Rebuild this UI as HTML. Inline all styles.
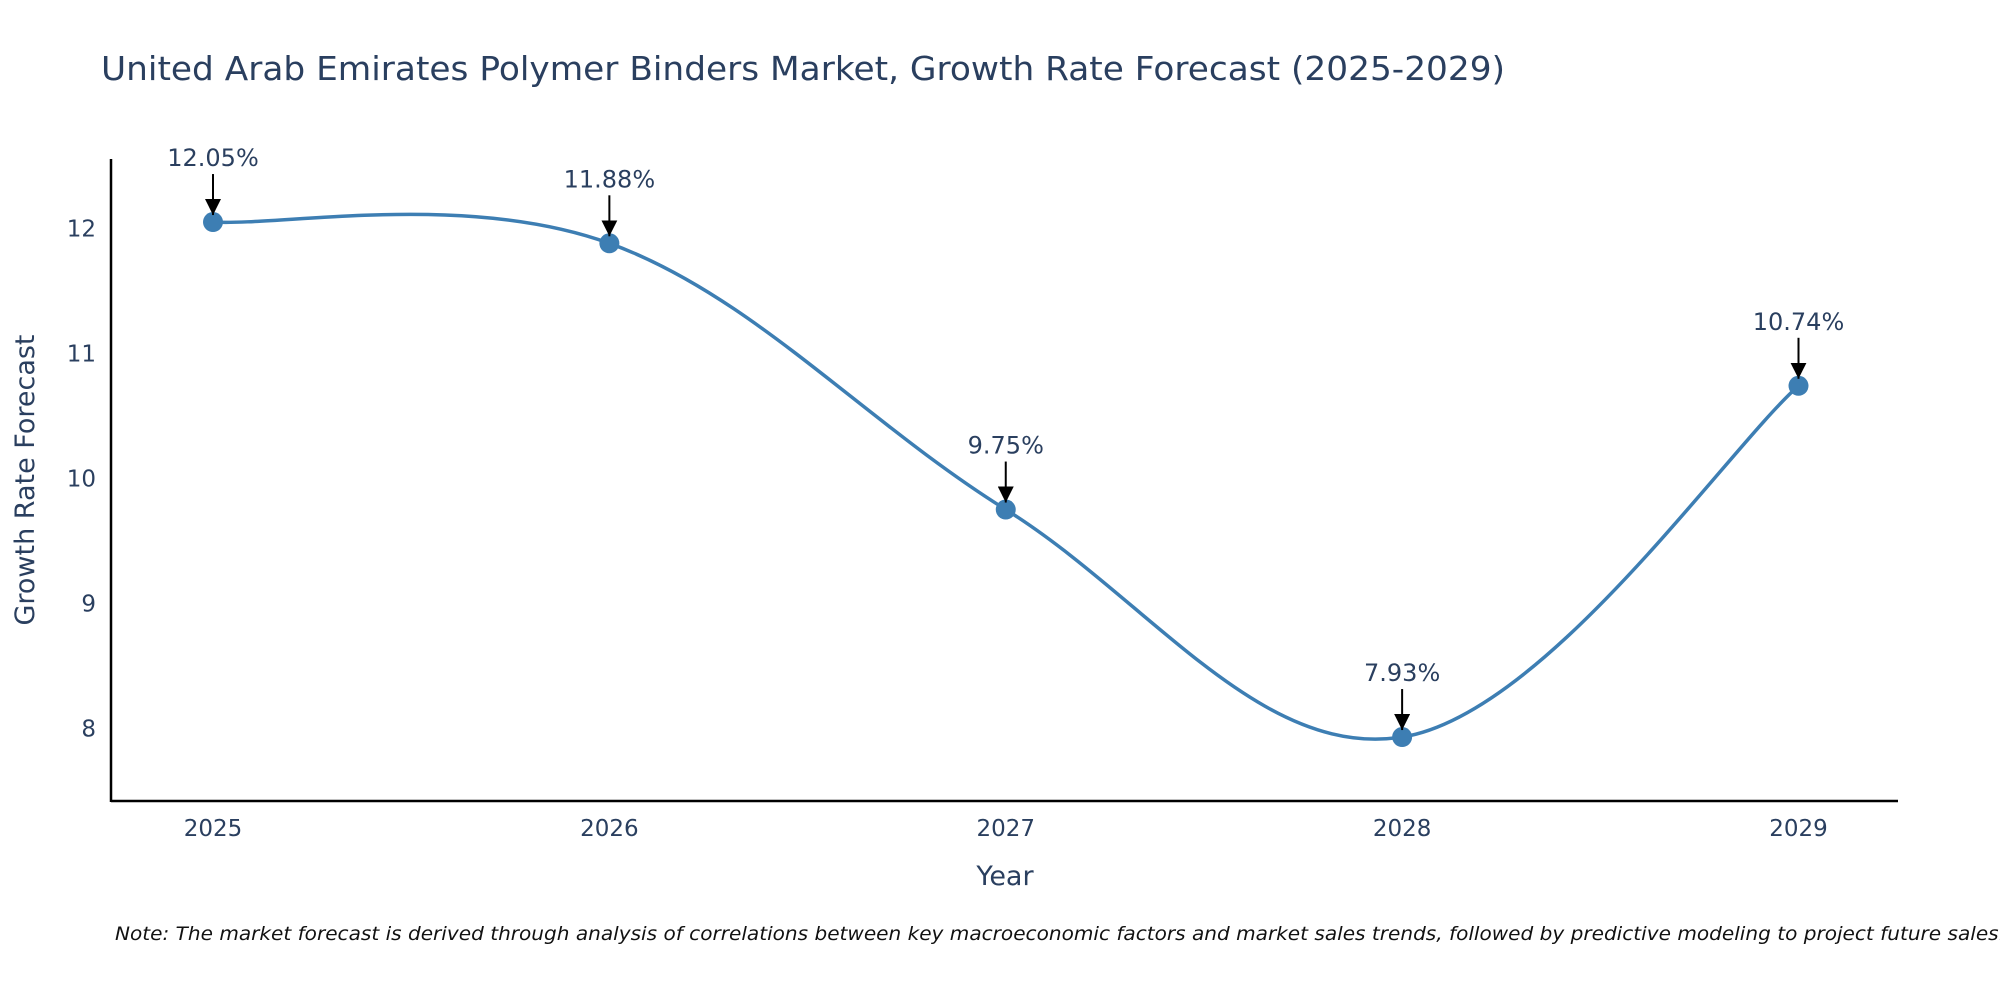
<!DOCTYPE html>
<html><head><meta charset="utf-8"><style>
html,body{margin:0;padding:0;background:#fff;}
svg{display:block;font-family:"DejaVu Sans","Liberation Sans",sans-serif;}
</style></head><body>
<svg id="chart" width="2000" height="1000" viewBox="0 0 2000 1000">
<text x="101" y="80" font-size="33" fill="#2a3f5f" textLength="1404" lengthAdjust="spacingAndGlyphs">United Arab Emirates Polymer Binders Market, Growth Rate Forecast (2025-2029)</text>
<g id="axes"></g>
<g id="series"></g>
<g id="annos"></g>
<text x="1005" y="885" font-size="27" fill="#2a3f5f" text-anchor="middle">Year</text>
<text transform="translate(34,480) rotate(-90)" font-size="27" fill="#2a3f5f" text-anchor="middle">Growth Rate Forecast</text>
<text x="115" y="940" font-size="19" font-style="italic" fill="#111" textLength="1890" lengthAdjust="spacingAndGlyphs">Note: The market forecast is derived through analysis of correlations between key macroeconomic factors and market sales trends, followed by predictive modeling to project future sales.</text>
</svg>
<script>
const years = [2025, 2026, 2027, 2028, 2029];
const values = [12.05, 11.88, 9.75, 7.93, 10.74];
const yTicks = [8, 9, 10, 11, 12];
const NS = "http://www.w3.org/2000/svg";
function xScale(v){ return 213 + (v - 2025) * (1798.5 - 213) / 4; }
function yScale(v){ return 728.3 - (v - 8) * 125; }
function mk(tag, attrs, parent){ const e=document.createElementNS(NS,tag); for(const k in attrs) e.setAttribute(k, attrs[k]); parent.appendChild(e); return e; }
const axes=document.getElementById('axes'), series=document.getElementById('series'), annos=document.getElementById('annos');
mk('defs',{},axes).innerHTML='<marker id="ah" viewBox="0 0 10 10" refX="10" refY="5" markerWidth="16" markerHeight="16" markerUnits="userSpaceOnUse" orient="auto"><path d="M0,0 L10,5 L0,10 z" fill="#000"/></marker>';
const xl=mk('line',{x1:111,y1:801,x2:1898,y2:801,stroke:'#000','stroke-width':2.5},axes);


const yl=mk('line',{x1:111,y1:159,x2:111,y2:802,stroke:'#000','stroke-width':2.5},axes);


yTicks.forEach(t=>{
  const tx=mk('text',{x:96,y:yScale(t)+8,'font-size':23,fill:'#2a3f5f','text-anchor':'end'},axes);
  tx.textContent=t;
  
  
});
years.forEach(yr=>{
  const tx=mk('text',{x:xScale(yr),y:836,'font-size':23,fill:'#2a3f5f','text-anchor':'middle'},axes);
  tx.textContent=yr;
  
  
});
const pts=years.map((y,i)=>[xScale(y),yScale(values[i])]);
let d='M'+pts[0][0]+','+pts[0][1];
const s=0.18;
for(let i=0;i<pts.length-1;i++){
  const p0=pts[Math.max(i-1,0)],p1=pts[i],p2=pts[i+1],p3=pts[Math.min(i+2,pts.length-1)];
  const c1=[p1[0]+(p2[0]-p0[0])*s,p1[1]+(p2[1]-p0[1])*s];
  const c2=[p2[0]-(p3[0]-p1[0])*s,p2[1]-(p3[1]-p1[1])*s];
  d+=' C'+c1+' '+c2+' '+p2;
}
const ln=mk('path',{d:d,fill:'none',stroke:'#3d7eb3','stroke-width':3.5},series);


pts.forEach((p,i)=>{
  const c=mk('circle',{cx:p[0],cy:p[1],r:10,fill:'#3d7eb3'},series);
  
  
  const a=mk('line',{x1:p[0],y1:p[1]-48,x2:p[0],y2:p[1]-7,stroke:'#000','stroke-width':2,'marker-end':'url(#ah)'},annos);
  
  
  const t=mk('text',{x:p[0],y:p[1]-56,'font-size':24,fill:'#2a3f5f','text-anchor':'middle'},annos);
  t.textContent=values[i].toFixed(2)+'%';
  
  
});
</script>
</body></html>
